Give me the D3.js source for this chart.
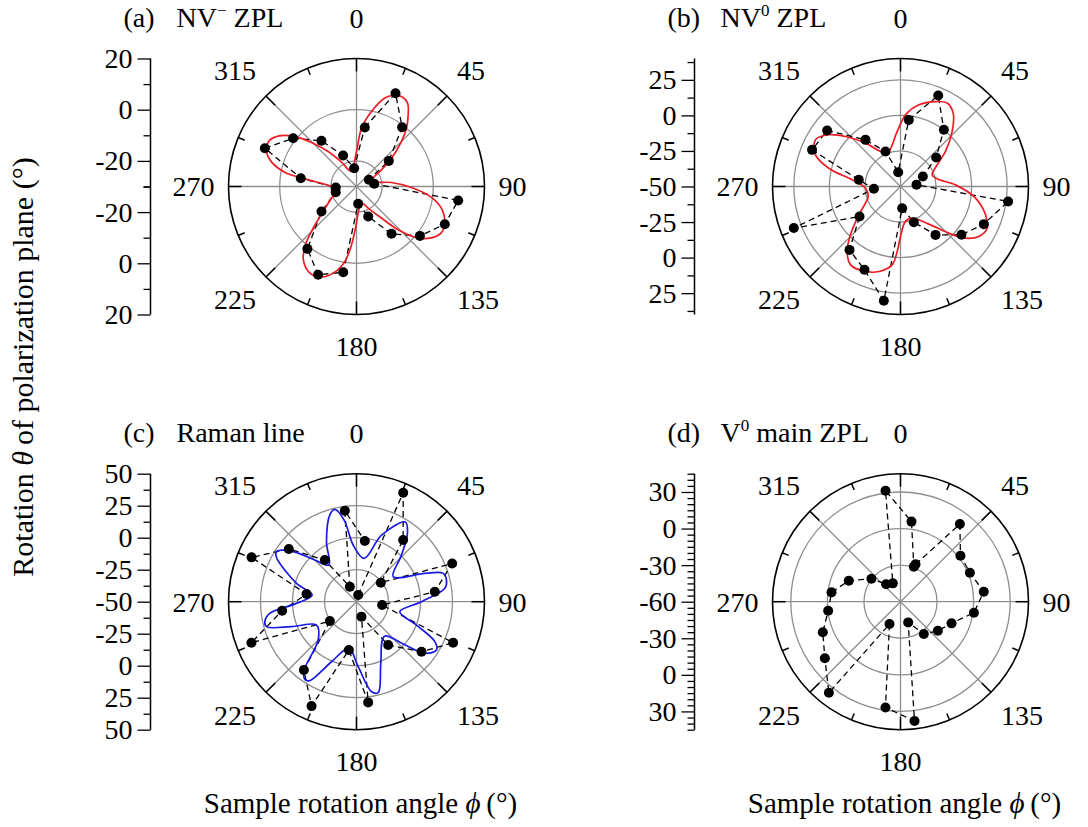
<!DOCTYPE html>
<html>
<head>
<meta charset="utf-8">
<script src="https://cdn.jsdelivr.net/npm/d3@7"></script>
<style>
  html, body { margin: 0; padding: 0; background: #fff; }
  svg text { font-family: "Liberation Serif", "Times New Roman", serif; fill: #000; }
</style>
</head>
<body>
<svg id="chart" width="1088" height="827"></svg>
<script>
// ---------- shared tick labels ----------
const angleTicks = [0, 45, 90, 135, 180, 225, 270, 315];

// ---------- (a) NV− ZPL ----------
const phiA   = [8.0, 22.7, 37.6, 51.6, 61.6, 81.4, 97.8, 113.1, 127.9, 143.5, 158.7, 174.5,
                188.8, 203.5, 218.2, 234.5, 254.7, 267.2, 278.5, 292.7, 307.3, 322.5, 336.7, 352.7];
const thetaA = [-6.7, 9.5, -0.8, -13.9, -24.5, -23.0, 10.1, 7.5, 1.4, -7.0, -17.4, -23.2,
                3.9, 7.6, 1.0, -13.2, -21.6, -21.9, -8.0, 8.8, 1.1, -7.5, -16.8, -22.8];
const fitPhiA   = [0, 4.9, 11.3, 17.8, 21.9, 26.6, 31.5, 35.8, 40.6, 45, 51, 56.3, 63.4, 73.3,
                   83.5, 91, 98.3, 105.2, 112.5, 118.9, 125.2, 131, 136.1, 141.7, 151.7, 161.2,
                   170.5, 181.4, 184.9, 188.8, 194.2, 201.2, 208.3, 215.9, 221.2, 226.1, 233.1, 245, 260,
                   274, 278.4, 281.3, 286, 291.3, 297.6, 303.2, 309, 314.4, 321, 328.3, 341];
const fitThetaA = [-16.3, -7.1, -0.1, 6.3, 8.3, 9.3, 8.2, 4.5, 0, -5.2, -12.4, -18.3, -22.7, -23.2,
                   -16.3, -8.5, -0.4, 4.7, 7.3, 7.7, 5, 0.2, -6.5, -14.3, -20.4, -23.1,
                   -22.1, -13.7, -7.1, -0.4, 4.5, 7.9, 8.4, 5.4, 0.3, -6.5, -13.7, -19.2, -22.5,
                   -17.6, -9.6, -1.4, 4.5, 7.7, 8.5, 6.1, 1, -5.4, -12.4, -18.8, -23.6];
const domainA = [-30, 20];
const majorA  = [-20, 0, 20];
const minorA  = [-30, -10, 10];
const gridA   = [-20, 0];

// ---------- (b) NV0 ZPL ----------
const phiB   = [7.1, 22.5, 37.4, 50.9, 65.9, 84.0, 97.9, 114.3, 128.4, 144.1, 159.5, 175.6,
                188.3, 203.4, 218.8, 233.8, 248.7, 265.0, 279.1, 292.5, 307.4, 323.1, 336.8, 350.8];
const thetaB = [-2.8, 19.3, 0.2, -17.7, -32.8, -38.7, 26.4, 14.3, 4.7, -8.0, -23.2, -34.7,
                31.2, 13.8, 7.2, -14.3, 30.5, -31.2, -20.3, 17.3, 14.9, -9.0, -23.2, -39.8];
const fitPhiB   = [4, 12.7, 22.4, 29.2, 35.7, 43.2, 52.1, 59.4, 69.8, 78.2, 88.3, 98.8, 108.4,
                   115.7, 122.6, 128.5, 134, 143, 159.8, 171.9, 180, 182.9, 186.1, 194.3, 202.4,
                   212.5, 219.4, 226, 235.8, 244.5, 252.8, 267.3, 277.9, 284.3, 290.4, 298.8,
                   305.8, 312.3, 321.1, 330.3, 337.8, 356.5];
const fitThetaB = [0.5, 8.9, 14.6, 17.2, 13.5, 3.1, -9.9, -20, -26.3, -23.7, -11.3, 3.4, 13,
                   17.6, 15.3, 8.4, -2.8, -16.9, -26.3, -25.2, -14.8, -4.2, 5.4, 11.7, 14.6,
                   15.3, 9.1, -1.1, -14.6, -22.7, -26.2, -25.4, -15.7, 2, 13.8, 18.2,
                   12.2, 2.2, -10.8, -21.7, -25.2, -11.3];
const domainB = [-50, 40];
const majorB  = [-50, -25, 0, 25];
const minorB  = [-37.5, -12.5, 12.5, 37.5];
const gridB   = [-25, 0, 25];

// ---------- (c) Raman line ----------
const phiC   = [14, 23.2, 37.1, 52, 68.2, 82.7, 97.4, 113, 127.6, 143.8, 161.6, 173.4, 189,
                203.3, 217.6, 234, 248.7, 263.1, 278.7, 292.9, 307.9, 322.8, 336, 352.7, 367.8];
const thetaC = [-44.6, 42.6, 10.4, -25.9, 30.5, 11.7, -29.8, 32, 14.1, -8.1, -37.7, 29.2, -11.8,
                38.8, 17.4, -24.3, 38.1, 8.5, -10.5, 39, 17, -9.1, -37.2, 21.7, -2.2];
const fitPhiC   = [10, 20.6, 31.5, 36.7, 44, 55.7, 67.5, 71.9, 76.5, 81.4, 90, 103, 111.3, 117,
                   121.1, 127.1, 132.5, 141, 158.5, 164.6, 166.6, 170.5, 178.5, 189.3, 202.6,
                   210.6, 213.6, 217.4, 225, 239.7, 249, 254.5, 257.7, 262.3, 268.4, 278.6, 287,
                   299, 302, 307.9, 315, 323, 333.4, 342.9, 346.8, 351.4, 356.6];
const fitThetaC = [-15.6, 5.6, 23, 16.6, 0.6, -15.3, 7.8, 21.3, 22.3, 19.8, 0.8, -15.3, 0.3, 18.7,
                   23, 16.9, -2, -15.3, 1.8, 18.9, 23, 21.3, 0.8, -13, 0.8,
                   21.6, 22.9, 17.3, -7.7, -13.8, 4.4, 23, 23.3, 18.4, -3.1, -15, -1,
                   21.5, 23.7, 14.4, -4, -14.1, 2.4, 20.9, 24.1, 14.5, -5.6];
const domainC = [-50, 50];
const majorC  = [-50, -25, 0, 25, 50];
const minorC  = [-37.5, -12.5, 12.5, 37.5];
const gridC   = [-25, 0, 25];

// ---------- (d) V0 main ZPL ----------
const phiD   = [21.9, 37.4, 52.5, 67.3, 83.2, 98.5, 113, 127.8, 144.2, 159.6, 173.3, 188.1, 206.2,
                218.2, 233.2, 248.5, 262.9, 277.7, 292.1, 308.4, 320.4, 337.3, 352.3, 367.8, 380.9];
const thetaD = [-27, 20.2, 2, 1.7, 8.8, 0.9, -14.5, -21.2, -27.3, -41.9, 38.6, 27.6, -39.6,
                35, 17.5, 8.5, -0.2, -2.9, -14.2, -29.6, -41.5, -43.7, 31.9, 6.3, -29.3];
const domainD = [-60, 45];
const majorD  = [-60, -30, 0, 30];
const minorD  = [-55, -50, -45, -40, -35, -25, -20, -15, -10, -5, 5, 10, 15, 20, 25, 35, 40, 45];
const gridD   = [-30, 0, 30];

// ---------- layout ----------
const R = 128;
const GRID = "#8e8e8e";

const panels = [
  { cx: 356.5, cy: 186.5, tag: "(a)", name: ["NV", "−", " ZPL"], phi: phiA, theta: thetaA,
    fitPhi: fitPhiA, fitTheta: fitThetaA, fitColor: "#ec1c24", closed: true,
    domain: domainA, major: majorA, minor: minorA, grid: gridA, centerLabel: false },
  { cx: 900.5, cy: 186.5, tag: "(b)", name: ["NV", "0", " ZPL"], phi: phiB, theta: thetaB,
    fitPhi: fitPhiB, fitTheta: fitThetaB, fitColor: "#ec1c24", closed: true,
    domain: domainB, major: majorB, minor: minorB, grid: gridB, centerLabel: true },
  { cx: 356.5, cy: 601.7, tag: "(c)", name: ["Raman line", "", ""], phi: phiC, theta: thetaC,
    fitPhi: fitPhiC, fitTheta: fitThetaC, fitColor: "#1a1ae6", closed: false,
    domain: domainC, major: majorC, minor: minorC, grid: gridC, centerLabel: true,
    xTitle: true },
  { cx: 900.5, cy: 601.7, tag: "(d)", name: ["V", "0", " main ZPL"], phi: phiD, theta: thetaD,
    fitPhi: null, fitTheta: null, closed: false,
    domain: domainD, major: majorD, minor: minorD, grid: gridD, centerLabel: true,
    xTitle: true }
];

const svg = d3.select("#chart");
const rad = d => d * Math.PI / 180;

function drawRadialAxis(p) {
  const ax = svg.append("g").attr("transform", `translate(${p.cx - 206},0)`);
  const up = d3.scaleLinear().domain(p.domain).range([p.cy, p.cy - R]);
  const down = d3.scaleLinear().domain(p.domain).range([p.cy, p.cy + R]);
  const fmt = d => String(d);
  const upper = p.major.filter(v => v !== p.domain[0] || p.centerLabel);
  const style = g => {
    g.select(".domain").remove();
    g.selectAll("line").attr("stroke", "#000").attr("stroke-width", 1.3);
    g.selectAll("text").attr("font-size", 28).attr("fill", "#000");
    g.attr("font-family", null).attr("font-size", null);
  };
  ax.append("g").call(d3.axisLeft(up).tickValues(upper).tickSize(13).tickPadding(5).tickFormat(fmt)).call(style);
  ax.append("g").call(d3.axisLeft(down).tickValues(p.major.filter(v => v !== p.domain[0]))
      .tickSize(13).tickPadding(5).tickFormat(fmt)).call(style);
  ax.append("g").call(d3.axisLeft(up).tickValues(p.minor).tickSize(7).tickFormat("")).call(style);
  ax.append("g").call(d3.axisLeft(down).tickValues(p.minor).tickSize(7).tickFormat("")).call(style);
  ax.append("line").attr("x1", 0).attr("x2", 0).attr("y1", p.cy - R).attr("y2", p.cy + R)
    .attr("stroke", "#000").attr("stroke-width", 1.5);
}

function drawPanel(p) {
  const g = svg.append("g").attr("transform", `translate(${p.cx},${p.cy})`);
  const r = d3.scaleLinear().domain(p.domain).range([0, R]);

  // grid rings
  g.selectAll("circle.ring").data(p.grid).join("circle").attr("class", "ring")
    .attr("r", d => r(d)).attr("fill", "none").attr("stroke", GRID).attr("stroke-width", 1.3);

  // spokes through the centre
  g.selectAll("line.spoke").data([0, 45, 90, 135]).join("line").attr("class", "spoke")
    .attr("x1", a => R * Math.sin(rad(a))).attr("y1", a => -R * Math.cos(rad(a)))
    .attr("x2", a => -R * Math.sin(rad(a))).attr("y2", a => R * Math.cos(rad(a)))
    .attr("stroke", GRID).attr("stroke-width", 1.3);

  // outer ring
  g.append("circle").attr("r", R).attr("fill", "none").attr("stroke", "#000").attr("stroke-width", 1.6);

  // angular ticks: major every 45°, minor halfway
  const ticks = d3.range(0, 360, 22.5).map(a => ({ a, len: a % 45 === 0 ? 13 : 7 }));
  g.selectAll("line.atick").data(ticks).join("line").attr("class", "atick")
    .attr("x1", d => R * Math.sin(rad(d.a))).attr("y1", d => -R * Math.cos(rad(d.a)))
    .attr("x2", d => (R - d.len) * Math.sin(rad(d.a))).attr("y2", d => -(R - d.len) * Math.cos(rad(d.a)))
    .attr("stroke", "#000").attr("stroke-width", 1.5);

  // angular tick labels
  g.selectAll("text.alab").data(angleTicks).join("text").attr("class", "alab")
    .attr("font-size", 28).attr("text-anchor", "middle")
    .attr("x", t => {
      const s = Math.sin(rad(t));
      const half = String(t).length * 7;
      return Math.abs(s) < 1e-6 ? 0 : s * 142 + Math.sign(s) * half;
    })
    .attr("y", t => {
      if (t === 0) return -159;
      const c = Math.cos(rad(t));
      return -c * (c > 0.1 ? 165 : 160);
    })
    .attr("dy", t => t === 0 ? 0 : "0.35em")
    .text(t => t);

  const pts = d3.zip(p.phi, p.theta);

  // dashed connection of the measured points
  const dash = d3.lineRadial().angle(d => rad(d[0])).radius(d => r(d[1]))
    .curve(p.closed ? d3.curveLinearClosed : d3.curveLinear);
  g.append("path").datum(pts).attr("d", dash).attr("fill", "none")
    .attr("stroke", "#000").attr("stroke-width", 1.3).attr("stroke-dasharray", "6,4");

  // fitted curve
  if (p.fitPhi) {
    const fit = d3.lineRadial().angle(d => rad(d[0])).radius(d => r(d[1]))
      .curve(d3.curveCatmullRomClosed.alpha(0.5));
    g.append("path").datum(d3.zip(p.fitPhi, p.fitTheta)).attr("d", fit).attr("fill", "none")
      .attr("stroke", p.fitColor).attr("stroke-width", 1.7);
  }

  // measured points
  g.selectAll("circle.pt").data(pts).join("circle").attr("class", "pt")
    .attr("cx", d => r(d[1]) * Math.sin(rad(d[0])))
    .attr("cy", d => -r(d[1]) * Math.cos(rad(d[0])))
    .attr("r", 5).attr("fill", "#000");

  // panel title
  svg.append("text").attr("font-size", 28).attr("x", p.cx - 233).attr("y", p.cy - 160).text(p.tag);
  const nm = svg.append("text").attr("font-size", 28).attr("x", p.cx - 180).attr("y", p.cy - 160);
  nm.append("tspan").text(p.name[0]);
  if (p.name[1]) {
    nm.append("tspan").attr("dy", -11).attr("font-size", 17).text(p.name[1]);
    nm.append("tspan").attr("dy", 11).text(p.name[2]);
  }

  // horizontal axis title
  if (p.xTitle) {
    const xt = svg.append("text").attr("font-size", 29).attr("text-anchor", "middle")
      .attr("x", p.cx + 4).attr("y", p.cy + 211);
    xt.append("tspan").text("Sample rotation angle ");
    xt.append("tspan").attr("font-style", "italic").text("ϕ");
    xt.append("tspan").text("\u2009(°)");
  }

  drawRadialAxis(p);
}

panels.forEach(drawPanel);

// shared vertical title
const yt = svg.append("text").attr("font-size", 30).attr("text-anchor", "middle")
  .attr("transform", "translate(33,367) rotate(-90)");
yt.append("tspan").text("Rotation ");
yt.append("tspan").attr("font-style", "italic").text("θ");
yt.append("tspan").text("\u2009of polarization plane (°)");
</script>
</body>
</html>
